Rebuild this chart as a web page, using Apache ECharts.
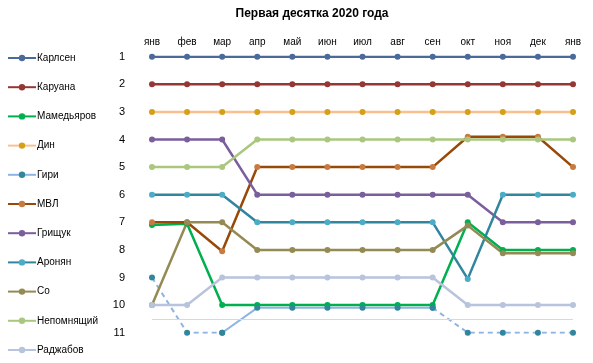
<!DOCTYPE html>
<html>
<head>
<meta charset="utf-8">
<script src="https://cdn.jsdelivr.net/npm/echarts@6/dist/echarts.min.js"></script>
<style>html,body{margin:0;padding:0;background:#fff}#c{width:593px;height:363px}</style>
</head>
<body>
<div id="c"></div>
<script>
const months = ['янв','фев','мар','апр','май','июн','июл','авг','сен','окт','ноя','дек','янв'];
const rankTicks = [1,2,3,4,5,6,7,8,9,10,11];
const carlsen    = [1,1,1,1,1,1,1,1,1,1,1,1,1];
const caruana    = [2,2,2,2,2,2,2,2,2,2,2,2,2];
const mamedyarov = [7.1,7.05,10,10,10,10,10,10,10,7,8,8,8];
const ding       = [3,3,3,3,3,3,3,3,3,3,3,3,3];
const giriSolid  = [null,null,11,10.1,10.1,10.1,10.1,10.1,10.1,null,null,null,null];
const giriDashed = [9,11,11,null,null,null,null,null,10.1,11,11,11,11];
const mvl        = [7,7,8.05,5,5,5,5,5,5,3.9,3.9,3.9,5];
const grischuk   = [4,4,4,6,6,6,6,6,6,6,7,7,7];
const aronian    = [6,6,6,7,7,7,7,7,7,9.05,6,6,6];
const so         = [10,7,7,8,8,8,8,8,8,7.12,8.12,8.12,8.12];
const nepo       = [5,5,5,4,4,4,4,4,4,4,4,4,4];
const radjabov   = [10,10,9,9,9,9,9,9,9,10,10,10,10];
const separatorRank = 10.5;

const FONT = 'Liberation Sans';
function s(name, data, line, marker, extra) {
  return Object.assign({
    name: name, type: 'line', data: data,
    symbol: 'circle', symbolSize: 6,
    lineStyle: { color: line, width: 2.5 },
    itemStyle: { color: marker },
    emphasis: { disabled: true },
    animation: false
  }, extra || {});
}
const series = [
  s('Карлсен', carlsen, '#4a6a9a', '#4a6a9a', {
    markLine: { silent: true, symbol: 'none', label: { show: false },
      lineStyle: { color: '#d9d9d9', width: 1, type: 'solid' },
      data: [{ yAxis: separatorRank }], animation: false }
  }),
  s('Каруана', caruana, '#953735', '#953735'),
  s('Мамедьяров', mamedyarov, '#00b050', '#00b050'),
  s('Дин', ding, '#fac090', '#d4a017'),
  s('Гири', giriSolid, '#8db4e2', '#31859c', { lineStyle: { color: '#8db4e2', width: 2 } }),
  s('Гири', giriDashed, '#8db4e2', '#31859c', { lineStyle: { color: '#8db4e2', width: 2, type: [5, 4] } }),
  s('МВЛ', mvl, '#984807', '#c77b40'),
  s('Грищук', grischuk, '#7b5e9c', '#7b5e9c'),
  s('Аронян', aronian, '#31859c', '#4bacc6'),
  s('Со', so, '#948a54', '#948a54'),
  s('Непомнящий', nepo, '#abc77f', '#abc77f'),
  s('Раджабов', radjabov, '#b8c4dd', '#b8c4dd')
];

const chart = echarts.init(document.getElementById('c'), null, { renderer: 'canvas' });
chart.setOption({
  animation: false,
  backgroundColor: '#fff',
  title: {
    text: 'Первая десятка 2020 года', left: 307, textAlign: 'center', top: 3,
    textStyle: { fontFamily: FONT, fontSize: 12, fontWeight: 'bold', color: '#000' }
  },
  legend: {
    orient: 'vertical', left: 7, top: 53, padding: 0,
    itemWidth: 28, itemHeight: 8, itemGap: 19.2,
    textStyle: { fontFamily: FONT, fontSize: 10, color: '#000', padding: [0,0,0,-4] },
    data: ['Карлсен','Каруана','Мамедьяров','Дин','Гири','МВЛ','Грищук','Аронян','Со','Непомнящий','Раджабов']
  },
  grid: { left: 152, right: 20, top: 56.7, bottom: 30.3, containLabel: false },
  xAxis: {
    type: 'category', position: 'top', data: months, boundaryGap: false,
    axisLine: { show: false }, axisTick: { show: false }, splitLine: { show: false },
    axisLabel: { fontFamily: FONT, fontSize: 10, color: '#000', margin: 9 }
  },
  yAxis: {
    type: 'value', inverse: true, min: 1, max: 11, interval: 1,
    axisLine: { show: false }, axisTick: { show: false }, splitLine: { show: false },
    axisLabel: { fontFamily: FONT, fontSize: 11, color: '#000', margin: 27,
      formatter: v => rankTicks.includes(v) ? String(v) : '' }
  },
  series: series
});
</script>
</body>
</html>
